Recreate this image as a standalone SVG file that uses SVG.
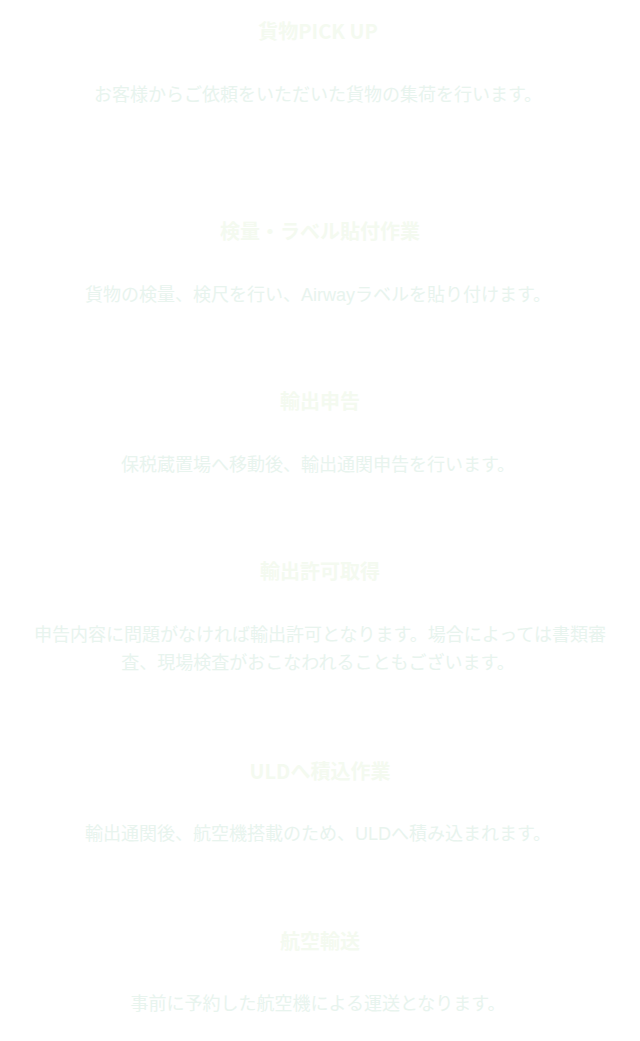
<svg xmlns="http://www.w3.org/2000/svg" width="640" height="1041" viewBox="0 0 640 1041">
<style>
.t{font-family:"Noto Sans CJK JP","Noto Sans",sans-serif;font-size:20px;font-weight:bold;fill:#f4faf0;text-anchor:middle}
.d{font-family:"Liberation Sans","Noto Sans CJK JP",sans-serif;font-size:18px;fill:#e8f4ee;text-anchor:middle}
</style>
<rect width="640" height="1041" fill="#ffffff"/>
<g id="step1"><text class="t" x="318" y="39">貨物PICK UP</text><text class="d" x="318" y="101">お客様からご依頼をいただいた貨物の集荷を行います。</text></g>
<g id="step2"><text class="t" x="320" y="239">検量・ラベル貼付作業</text><text class="d" x="318" y="301">貨物の検量、検尺を行い、Airwayラベルを貼り付けます。</text></g>
<g id="step3"><text class="t" x="320" y="409">輸出申告</text><text class="d" x="318" y="471">保税蔵置場へ移動後、輸出通関申告を行います。</text></g>
<g id="step4"><text class="t" x="320" y="579">輸出許可取得</text><text class="d" x="320" y="641">申告内容に問題がなければ輸出許可となります。場合によっては書類審</text><text class="d" x="318" y="669">査、現場検査がおこなわれることもございます。</text></g>
<g id="step5"><text class="t" x="320" y="779">ULDへ積込作業</text><text class="d" x="318" y="840">輸出通関後、航空機搭載のため、ULDへ積み込まれます。</text></g>
<g id="step6"><text class="t" x="320" y="949">航空輸送</text><text class="d" x="318" y="1010">事前に予約した航空機による運送となります。</text></g>
<g id="connectors"></g>
</svg>
